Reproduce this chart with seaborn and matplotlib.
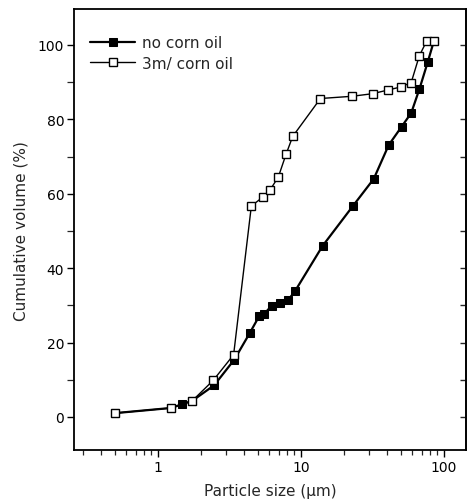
import matplotlib
matplotlib.use("Agg")
import matplotlib.pyplot as plt
import seaborn as sns
import pandas as pd
from matplotlib.ticker import FixedLocator, NullFormatter, LogLocator

sns.set_theme(style="ticks")
plt.rcParams['font.family'] = ['DejaVu Sans']

# no corn oil (filled squares)
size_no = [0.5, 1.24, 1.48, 1.74, 2.48, 3.43, 4.39, 5.1, 5.55, 6.25, 7.19, 8.18, 9.1,
           14.2, 23.2, 32.3, 41.1, 50.5, 59.0, 67.4, 77.1, 84.9]
vol_no = [1.0, 2.4, 3.4, 4.3, 8.5, 15.4, 22.5, 27.0, 27.7, 29.9, 30.6, 31.5, 33.8,
          46.0, 56.8, 64.0, 73.1, 78.0, 81.7, 88.2, 95.5, 101.0]

# 3ml corn oil (open squares)
size_oil = [0.5, 1.24, 1.74, 2.44, 3.39, 4.51, 5.47, 6.09, 6.96, 7.88, 8.77,
            13.7, 22.8, 31.8, 40.7, 49.9, 59.0, 67.1, 75.5, 84.9]
vol_oil = [1.0, 2.4, 4.3, 9.8, 16.7, 56.7, 59.2, 61.0, 64.5, 70.6, 75.4,
           85.6, 86.2, 86.9, 87.9, 88.7, 89.9, 97.0, 101.0, 101.0]

labels = ["no corn oil", "3m/ corn oil"]
xticks = [1, 10, 100]
xticklabels = ["1", "10", "100"]
yticks = [0, 20, 40, 60, 80, 100]

df_no = pd.DataFrame({"size": size_no, "vol": vol_no})
df_oil = pd.DataFrame({"size": size_oil, "vol": vol_oil})

fig = plt.figure(figsize=(4.71, 5.02), dpi=100)
ax = fig.add_axes([0.157, 0.1016, 0.832, 0.878])

sns.lineplot(data=df_no, x="size", y="vol", ax=ax, color="black", lw=1.6,
             marker="s", markersize=5.5, markerfacecolor="black",
             markeredgecolor="black", estimator=None, sort=False, label=labels[0])
sns.lineplot(data=df_oil, x="size", y="vol", ax=ax, color="black", lw=1.0,
             marker="s", markersize=5.5, markerfacecolor="white",
             markeredgecolor="black", markeredgewidth=1.0,
             estimator=None, sort=False, label=labels[1])

ax.set_xscale("log")
ax.set_xlim(0.26, 142)
ax.set_ylim(-8.9, 109.6)
ax.set_yticks(yticks)
ax.yaxis.set_minor_locator(FixedLocator([10, 30, 50, 70, 90]))
ax.xaxis.set_major_locator(FixedLocator(xticks))
ax.set_xticklabels(xticklabels)
ax.xaxis.set_minor_locator(LogLocator(base=10, subs=range(2, 10)))
ax.xaxis.set_minor_formatter(NullFormatter())

ax.set_xlabel("Particle size (\u03bcm)", fontsize=11, labelpad=7)
ax.set_ylabel("Cumulative volume (%)", fontsize=11, labelpad=7)

for s in ax.spines.values():
    s.set_color("black")
    s.set_linewidth(1.3)

ax.tick_params(axis="both", which="major", direction="out", length=5, width=1.0,
               labelsize=10, colors="black", top=False, pad=2)
ax.tick_params(axis="both", which="minor", direction="out", length=3.5, width=0.9,
               top=False)
ax.tick_params(axis="y", which="minor", length=5)
ax.tick_params(axis="y", which="both", right=False)
# right side ticks inward
sec = ax.secondary_yaxis("right")
sec.set_yticks([0, 10, 20, 30, 40, 50, 60, 70, 80, 90, 100])
sec.tick_params(direction="in", length=4, width=1.0, labelright=False)
sec.spines["right"].set_linewidth(1.3)

leg = ax.legend(loc="upper left", frameon=False, fontsize=11, handlelength=2.95,
                borderaxespad=0.0, handletextpad=0.45, labelspacing=0.35,
                bbox_to_anchor=(0.0255, 0.955))

fig.savefig("out.png", dpi=100)
